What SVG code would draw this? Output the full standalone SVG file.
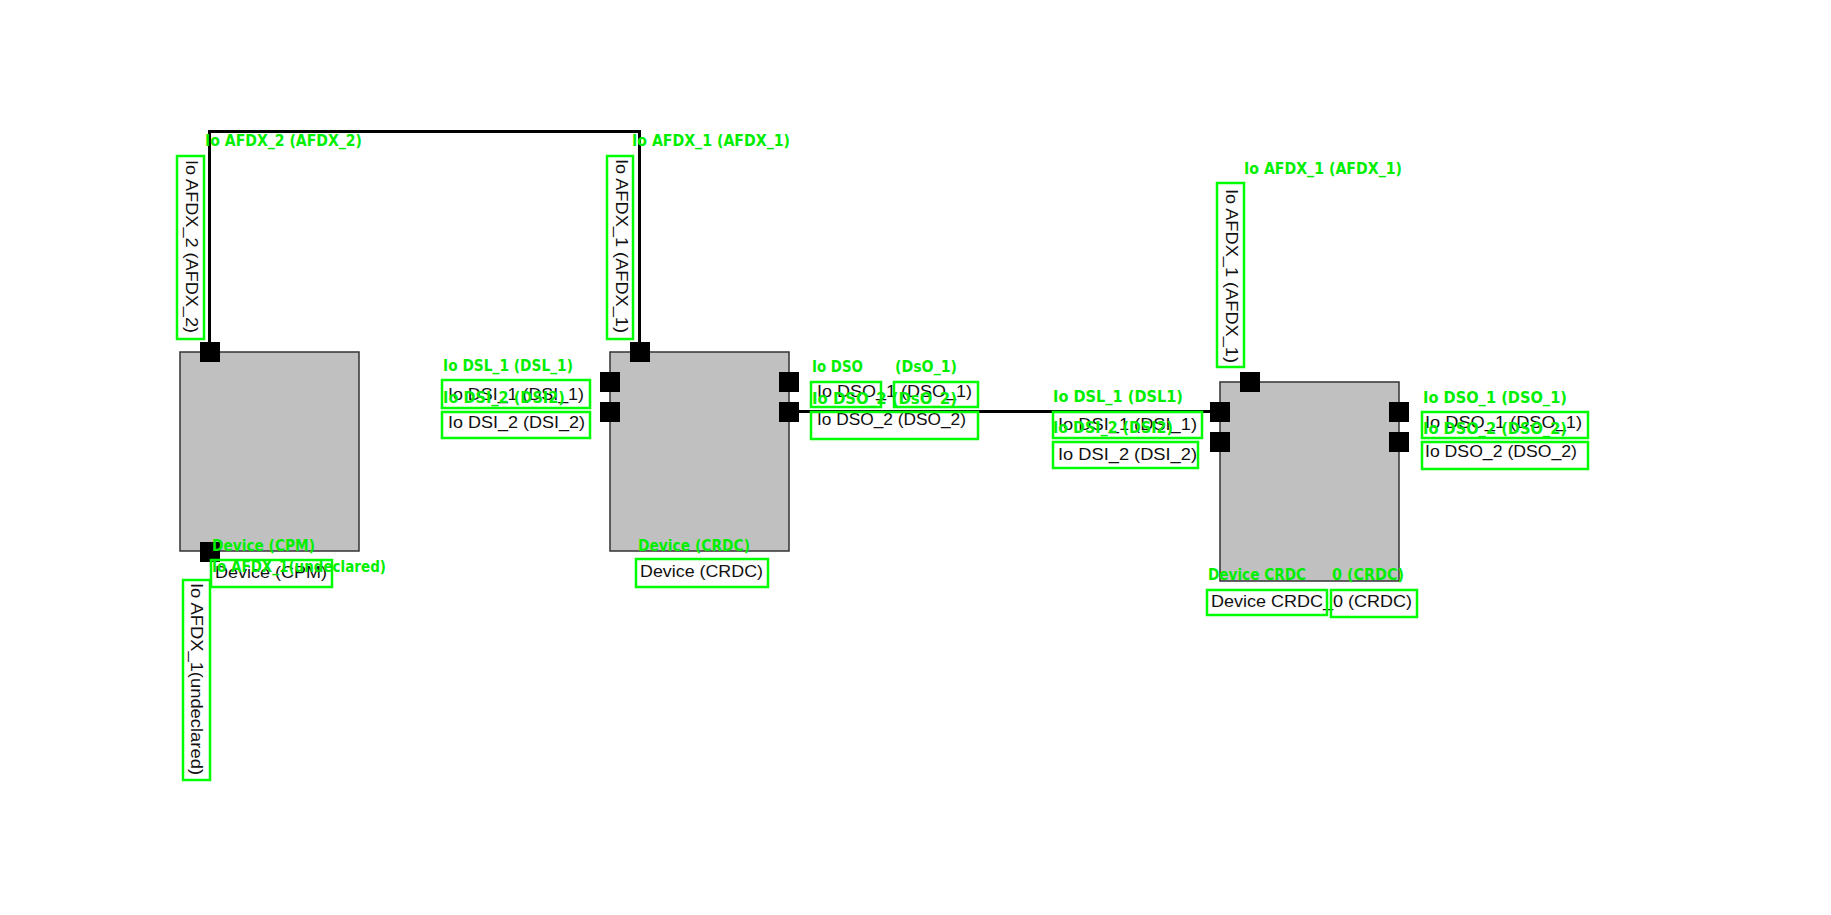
<svg xmlns="http://www.w3.org/2000/svg" width="1831" height="915" viewBox="0 0 1831 915">
<style>
.dev{fill:#c0c0c0;stroke:#333;stroke-width:1.5}
.port{fill:#000}
.lbl{font-family:"Liberation Sans",Arial,sans-serif;font-size:17px;fill:#111}
.conn{fill:none;stroke:#000;stroke-width:3}
.gb{fill:none;stroke:#00ff00;stroke-width:2.5}
.gt{font-family:"DejaVu Sans",sans-serif;font-weight:bold;font-size:15px;fill:#00ee00}
</style>
<rect width="1831" height="915" fill="#fff"/>
<g id="connectors">
<path class="conn" d="M209.5 352 V131.5 H639.5 V352"/>
<path class="conn" d="M789 411.5 H1220"/>
</g>
<g id="device-cpm">
<rect class="dev" x="180" y="352" width="179" height="199"/>
<rect class="port" x="200" y="342" width="20" height="20"/>
<rect class="port" x="200" y="542" width="20" height="20"/>
<text class="lbl" x="215" y="578" textLength="112" lengthAdjust="spacingAndGlyphs">Device (CPM)</text>
<text class="lbl" transform="translate(186,160) rotate(90)" textLength="173" lengthAdjust="spacingAndGlyphs">Io AFDX_2 (AFDX_2)</text>
<text class="lbl" transform="translate(191,583) rotate(90)" textLength="192" lengthAdjust="spacingAndGlyphs">Io AFDX_1(undeclared)</text>
</g>
<g id="device-crdc">
<rect class="dev" x="610" y="352" width="179" height="199"/>
<rect class="port" x="630" y="342" width="20" height="20"/>
<rect class="port" x="600" y="372" width="20" height="20"/>
<rect class="port" x="600" y="402" width="20" height="20"/>
<rect class="port" x="779" y="372" width="20" height="20"/>
<rect class="port" x="779" y="402" width="20" height="20"/>
<text class="lbl" x="640" y="577" textLength="123" lengthAdjust="spacingAndGlyphs">Device (CRDC)</text>
<text class="lbl" transform="translate(616,159) rotate(90)" textLength="174" lengthAdjust="spacingAndGlyphs">Io AFDX_1 (AFDX_1)</text>
<text class="lbl" x="448" y="400" textLength="136" lengthAdjust="spacingAndGlyphs">Io DSI_1 (DSI_1)</text>
<text class="lbl" x="448" y="428" textLength="137" lengthAdjust="spacingAndGlyphs">Io DSI_2 (DSI_2)</text>
<text class="lbl" x="817" y="397" textLength="155" lengthAdjust="spacingAndGlyphs">Io DSO_1 (DSO_1)</text>
<text class="lbl" x="817" y="425" textLength="149" lengthAdjust="spacingAndGlyphs">Io DSO_2 (DSO_2)</text>
</g>
<g id="device-crdc-0">
<rect class="dev" x="1220" y="382" width="179" height="199"/>
<rect class="port" x="1240" y="372" width="20" height="20"/>
<rect class="port" x="1210" y="402" width="20" height="20"/>
<rect class="port" x="1210" y="432" width="20" height="20"/>
<rect class="port" x="1389" y="402" width="20" height="20"/>
<rect class="port" x="1389" y="432" width="20" height="20"/>
<text class="lbl" x="1211" y="607" textLength="201" lengthAdjust="spacingAndGlyphs">Device CRDC_0 (CRDC)</text>
<text class="lbl" transform="translate(1226,189) rotate(90)" textLength="174" lengthAdjust="spacingAndGlyphs">Io AFDX_1 (AFDX_1)</text>
<text class="lbl" x="1058" y="430" textLength="139" lengthAdjust="spacingAndGlyphs">Io DSI_1 (DSI_1)</text>
<text class="lbl" x="1058" y="460" textLength="139" lengthAdjust="spacingAndGlyphs">Io DSI_2 (DSI_2)</text>
<text class="lbl" x="1425" y="428" textLength="157" lengthAdjust="spacingAndGlyphs">Io DSO_1 (DSO_1)</text>
<text class="lbl" x="1425" y="457" textLength="152" lengthAdjust="spacingAndGlyphs">Io DSO_2 (DSO_2)</text>
</g>
<g id="annotation-boxes">
<rect class="gb" x="177" y="156" width="27" height="183"/>
<rect class="gb" x="607" y="156" width="26" height="183"/>
<rect class="gb" x="1217" y="183" width="27" height="184"/>
<rect class="gb" x="183" y="580" width="27" height="200"/>
<rect class="gb" x="211" y="560" width="121" height="27"/>
<rect class="gb" x="442" y="380" width="148" height="28"/>
<rect class="gb" x="442" y="412" width="148" height="26"/>
<rect class="gb" x="636" y="559" width="132" height="28"/>
<rect class="gb" x="811" y="382" width="70" height="25"/>
<rect class="gb" x="894" y="382" width="84" height="25"/>
<rect class="gb" x="811" y="412" width="167" height="27"/>
<rect class="gb" x="1053" y="412" width="149" height="26"/>
<rect class="gb" x="1053" y="442" width="145" height="26"/>
<rect class="gb" x="1422" y="412" width="166" height="26"/>
<rect class="gb" x="1422" y="442" width="166" height="27"/>
<rect class="gb" x="1207" y="590" width="120" height="25"/>
<rect class="gb" x="1331" y="590" width="86" height="27"/>
</g>
<g id="annotation-texts">
<text class="gt" x="205" y="146" textLength="157" lengthAdjust="spacingAndGlyphs">Io AFDX_2 (AFDX_2)</text>
<text class="gt" x="632" y="146" textLength="158" lengthAdjust="spacingAndGlyphs">Io AFDX_1 (AFDX_1)</text>
<text class="gt" x="1244" y="174" textLength="158" lengthAdjust="spacingAndGlyphs">Io AFDX_1 (AFDX_1)</text>
<text class="gt" x="443" y="371" textLength="130" lengthAdjust="spacingAndGlyphs">Io DSL_1 (DSL_1)</text>
<text class="gt" x="443" y="403" textLength="122" lengthAdjust="spacingAndGlyphs">Io DSI_2 (DSI2)</text>
<text class="gt" x="638" y="551" textLength="112" lengthAdjust="spacingAndGlyphs">Device (CRDC)</text>
<text class="gt" x="212" y="551" textLength="103" lengthAdjust="spacingAndGlyphs">Device (CPM)</text>
<text class="gt" x="212" y="572" textLength="174" lengthAdjust="spacingAndGlyphs">Io AFDX_1(undeclared)</text>
<text class="gt" x="812" y="372" textLength="51" lengthAdjust="spacingAndGlyphs">Io DSO</text>
<text class="gt" x="895" y="372" textLength="62" lengthAdjust="spacingAndGlyphs">(DsO_1)</text>
<text class="gt" x="812" y="404" textLength="145" lengthAdjust="spacingAndGlyphs">Io DSO_2 (DsO_2)</text>
<text class="gt" x="1053" y="402" textLength="130" lengthAdjust="spacingAndGlyphs">Io DSL_1 (DSL1)</text>
<text class="gt" x="1053" y="433" textLength="120" lengthAdjust="spacingAndGlyphs">Io DSI_2 (DSI2)</text>
<text class="gt" x="1423" y="403" textLength="144" lengthAdjust="spacingAndGlyphs">Io DSO_1 (DSO_1)</text>
<text class="gt" x="1423" y="434" textLength="144" lengthAdjust="spacingAndGlyphs">Io DSO_2 (DSO_2)</text>
<text class="gt" x="1208" y="580" textLength="98" lengthAdjust="spacingAndGlyphs">Device CRDC</text>
<text class="gt" x="1332" y="580" textLength="72" lengthAdjust="spacingAndGlyphs">0 (CRDC)</text>
</g>
</svg>
